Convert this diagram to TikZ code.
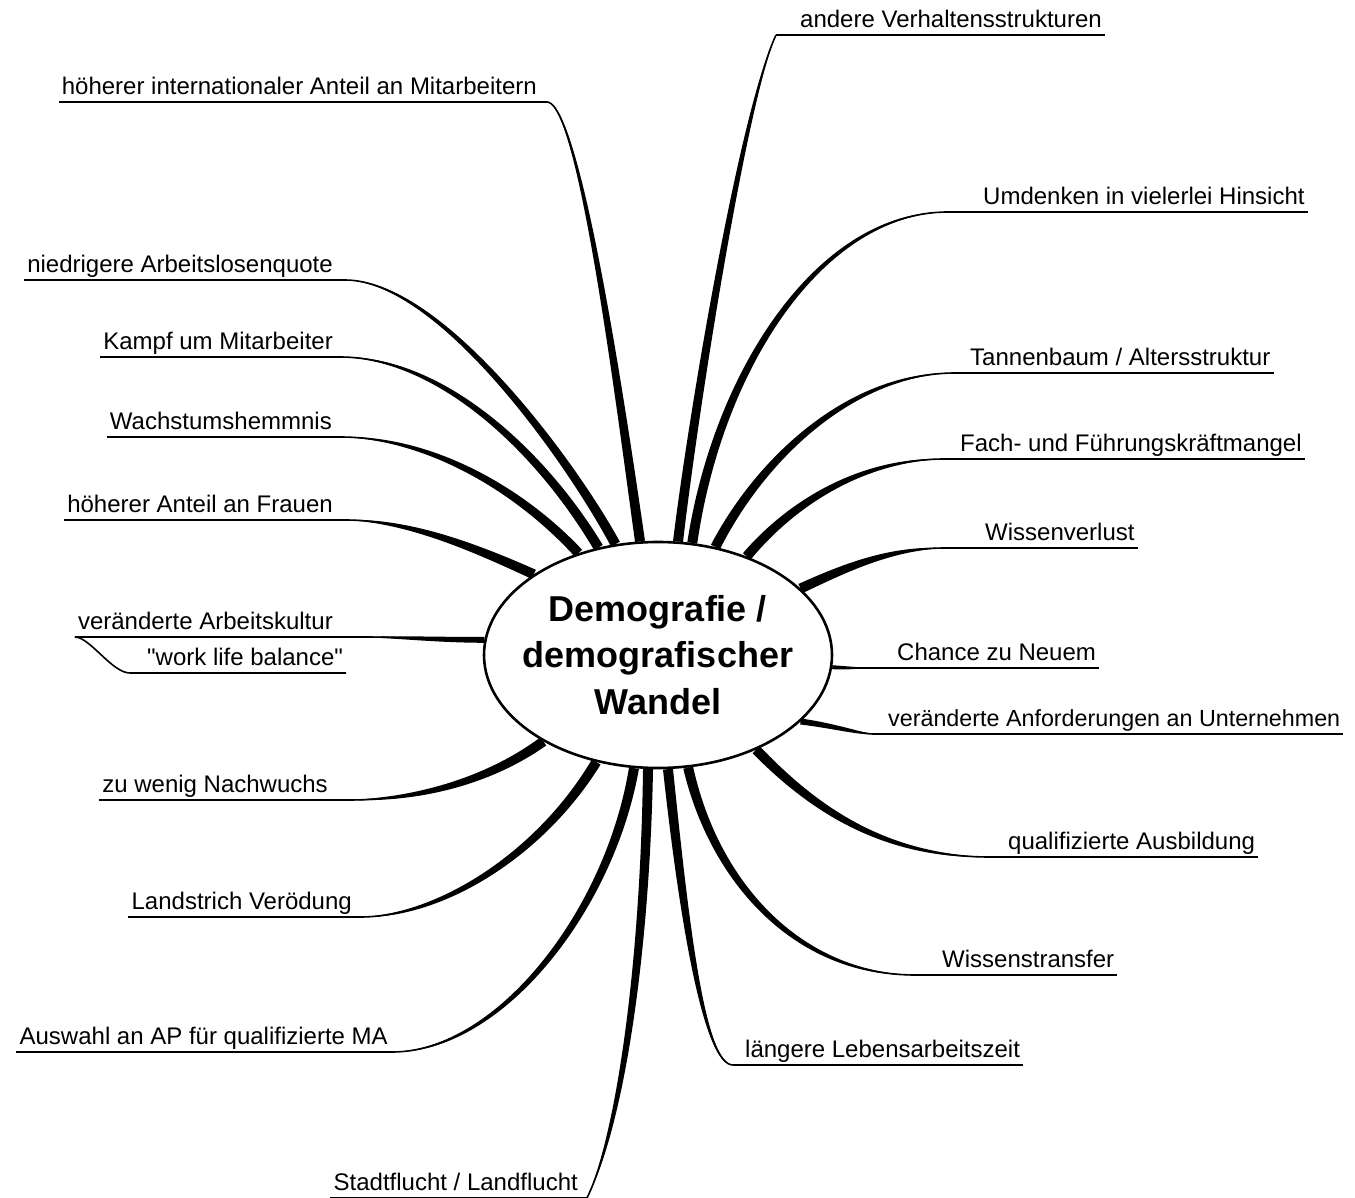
\documentclass[tikz,border=0pt]{standalone}
\usepackage{fontspec}
\setmainfont{Liberation Sans}
\usetikzlibrary{calc,shapes.geometric,backgrounds}

\tikzset{
    core/.style={ellipse, draw, line width=2.6pt, fill=white,
        minimum width=348pt, minimum height=226pt, inner xsep=-30pt, inner ysep=0pt,
        align=center, font=\bfseries\fontsize{36}{46.5}\selectfont},
    lbl/.style={inner xsep=3pt, inner ysep=0pt, text height=18pt,
        text depth=7pt, font=\fontsize{24}{28}\selectfont},
    uline/.style={line width=1.6pt}
}

% tapered branch: [half width]{base}{control 1}{control 2}{end}
\newcommand{\branch}[5][5pt]{%
    \fill ($(#2)!#1!90:(#3)$) .. controls ($(#3)!{0.9*#1}!90:(#4)$) and ($(#4)!{0.55*#1}!90:(#5)$) .. (#5)
        .. controls ($(#4)!{0.55*#1}!-90:(#5)$) and ($(#3)!{0.9*#1}!-90:(#4)$) .. ($(#2)!#1!-90:(#3)$) -- cycle;
    \draw[uline] (#2) .. controls (#3) and (#4) .. (#5);
}

\begin{document}
\begin{tikzpicture}[x=1pt, y=-1pt]

    \useasboundingbox (0,0) rectangle (1355,1198);

    % Centre
    \node[core] (demo) at (658,655) {Demografie /\\demografischer\\Wandel};

    % Branch ends (right side)
    \coordinate (e-verhalten) at (776,35);
    \coordinate (e-umdenken)  at (948,212);
    \coordinate (e-tannen)    at (955,373);
    \coordinate (e-fach)      at (945,459);
    \coordinate (e-wissenv)   at (945,548);
    \coordinate (e-chance)    at (868,668);
    \coordinate (e-anford)    at (874,734);
    \coordinate (e-qualif)    at (990,857);
    \coordinate (e-transfer)  at (915,975);
    \coordinate (e-laenger)   at (733,1065);

    % Branch ends (left side)
    \coordinate (e-stadt)      at (587,1198);
    \coordinate (e-auswahl)    at (392,1052);
    \coordinate (e-landstrich) at (360,917);
    \coordinate (e-nachwuchs)  at (348,800);
    \coordinate (e-kultur)     at (365,637);
    \coordinate (e-balance)    at (130,673);
    \coordinate (e-frauen)     at (345,520);
    \coordinate (e-wachstum)   at (340,437);
    \coordinate (e-kampf)      at (340,357);
    \coordinate (e-niedrig)    at (345,280);
    \coordinate (e-intl)       at (548,102);

    % Labels (right side)
    \node[lbl, anchor=south west] (verhalten) at (797,35)   {andere Verhaltensstrukturen};
    \node[lbl, anchor=south west] (umdenken)  at (980,212)  {Umdenken in vielerlei Hinsicht};
    \node[lbl, anchor=south west] (tannen)    at (967,373)  {Tannenbaum / Altersstruktur};
    \node[lbl, anchor=south west] (fach)      at (957,459)  {Fach- und Führungskräftmangel};
    \node[lbl, anchor=south west] (wissenv)   at (982,548)  {Wissenverlust};
    \node[lbl, anchor=south west] (chance)    at (894,668)  {Chance zu Neuem};
    \node[lbl, anchor=south west, font=\fontsize{23.3}{28}\selectfont] (anford) at (885,734) {veränderte Anforderungen an Unternehmen};
    \node[lbl, anchor=south west] (qualif)    at (1005,857) {qualifizierte Ausbildung};
    \node[lbl, anchor=south west] (transfer)  at (939,975)  {Wissenstransfer};
    \node[lbl, anchor=south west] (laenger)   at (742,1065) {längere Lebensarbeitszeit};

    % Labels (left side)
    \node[lbl, anchor=south east] (stadt)      at (581,1198) {Stadtflucht / Landflucht};
    \node[lbl, anchor=south east] (auswahl)    at (391,1052) {Auswahl an AP für qualifizierte MA};
    \node[lbl, anchor=south east] (landstrich) at (355,917)  {Landstrich Verödung};
    \node[lbl, anchor=south east] (nachwuchs)  at (331,800)  {zu wenig Nachwuchs};
    \node[lbl, anchor=south east] (kultur)     at (336,637)  {veränderte Arbeitskultur};
    \node[lbl, anchor=south west] (balance)    at (144,673)  {\textquotedbl work life balance\textquotedbl};
    \node[lbl, anchor=south east] (frauen)     at (336,520)  {höherer Anteil an Frauen};
    \node[lbl, anchor=south east] (wachstum)   at (335,437)  {Wachstumshemmnis};
    \node[lbl, anchor=south east] (kampf)      at (336,357)  {Kampf um Mitarbeiter};
    \node[lbl, anchor=south east] (niedrig)    at (336,280)  {niedrigere Arbeitslosenquote};
    \node[lbl, anchor=south east] (intl)       at (540,102)  {höherer internationaler Anteil an Mitarbeitern};

    % Underlines
    \foreach \n in {verhalten,umdenken,tannen,fach,wissenv,chance,anford,qualif,transfer,laenger}
        \draw[uline] (e-\n) -- (\n.south east);
    \foreach \n in {stadt,auswahl,landstrich,nachwuchs,kultur,frauen,wachstum,kampf,niedrig,intl}
        \draw[uline] (\n.south west) -- (e-\n);

    % Sub-branch "work life balance"
    \draw[uline] (kultur.south west) .. controls (90,637) and (112,673) .. (e-balance) -- (balance.south east);

    % Branches
    \begin{pgfonlayer}{background}
        \branch{demo.80}{695,400}{745,100}{e-verhalten}
        \branch{demo.73}{718,370}{820,212}{e-umdenken}
        \branch{demo.62}{760,460}{850,373}{e-tannen}
        \branch{demo.48}{790,505}{860,459}{e-fach}
        \branch{demo.25}{845,568}{890,548}{e-wissenv}
        \branch[2pt]{demo.-4}{845,668}{855,668}{e-chance}
        \branch[3pt]{demo.-25}{835,726}{860,734}{e-anford}
        \branch{demo.-44}{810,805}{880,857}{e-qualif}
        \branch{demo.-75}{715,885}{800,975}{e-transfer}
        \branch{demo.-85}{685,930}{705,1065}{e-laenger}
        \branch{demo.-95}{645,960}{620,1130}{e-stadt}
        \branch{demo.-102}{610,910}{500,1052}{e-auswahl}
        \branch{demo.-120}{540,855}{440,917}{e-landstrich}
        \branch{demo.-143}{490,780}{420,800}{e-nachwuchs}
        \branch[3pt]{demo.175}{440,640}{400,637}{e-kultur}
        \branch{demo.147}{480,550}{410,520}{e-frauen}
        \branch{demo.128}{520,490}{430,437}{e-wachstum}
        \branch{demo.119}{540,450}{440,357}{e-kampf}
        \branch{demo.111}{570,460}{440,280}{e-niedrig}
        \branch{demo.99}{620,400}{580,110}{e-intl}
    \end{pgfonlayer}

\end{tikzpicture}
\end{document}
